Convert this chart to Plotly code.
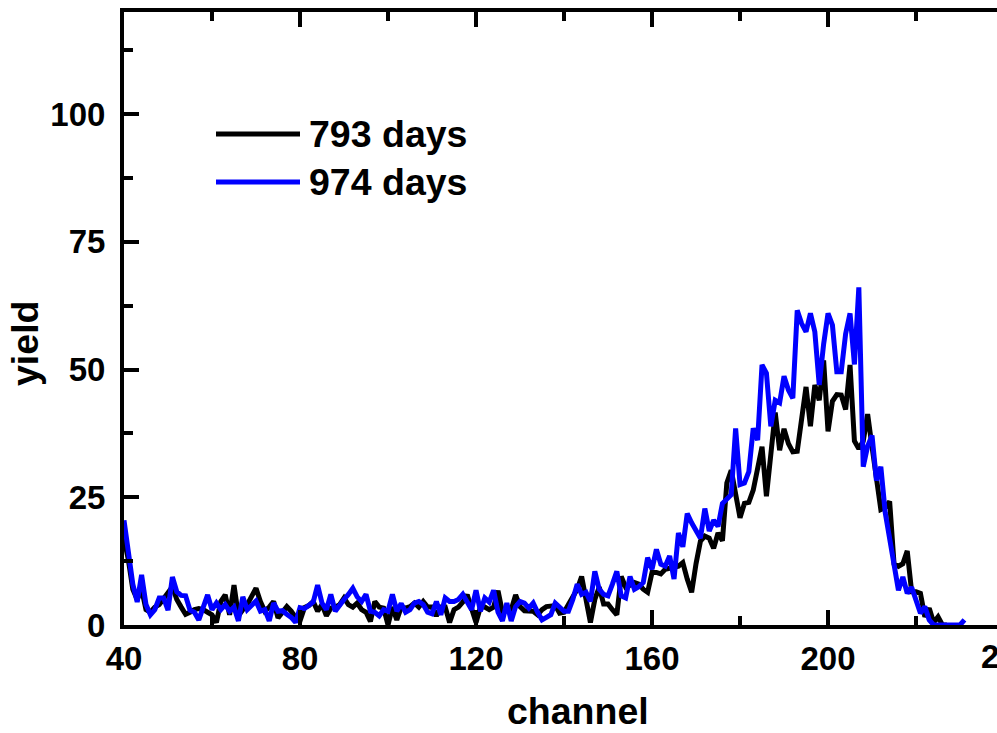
import plotly.graph_objects as go

# Spectrum yields per channel for the two measurement dates
yield_793 = [
    17.0, 12.7, 7.0, 5.0, 7.0, 3.0, 2.5, 3.5, 4.0, 5.0,          # 40-49
    6.3, 7.5, 5.0, 3.5, 2.1, 2.5, 3.0, 3.2, 3.0, 2.5,            # 50-59
    2.0, 0.5, 4.6, 5.9, 2.0, 7.8, 1.8, 3.0, 4.0, 5.6,            # 60-69
    7.2, 4.6, 2.7, 3.5, 4.6, 1.4, 2.5, 3.6, 2.7, 1.5,            # 70-79
    0.8, 3.4, 3.8, 4.6, 2.7, 4.0, 1.8, 3.3, 3.5, 4.0,            # 80-89
    5.3, 4.0, 3.5, 4.3, 3.0, 2.5, 0.7, 4.6, 3.5, 3.3,            # 90-99
    0.0, 3.5, 1.0, 3.5, 3.3, 3.6, 4.3, 3.5, 4.6, 3.5,            # 100-109
    3.5, 1.8, 3.5, 3.5, 0.5, 3.0, 3.5, 4.5, 5.9, 3.5,            # 110-119
    0.5, 3.5, 3.5, 3.0, 3.5, 6.7, 2.5, 3.0, 3.0, 5.9,            # 120-129
    3.6, 2.8, 2.7, 2.7, 2.0, 3.0, 3.6, 3.8, 3.8, 2.3,            # 130-139
    2.5, 4.0, 5.7, 7.0, 9.5, 5.0, 0.5, 5.0, 7.4, 4.1,            # 140-149
    4.1, 3.0, 2.0, 9.5, 7.4, 7.8, 8.3, 8.0, 7.0, 6.4,            # 150-159
    10.3, 10.3, 10.0, 10.9, 11.0, 11.3, 11.5, 12.2, 9.0, 6.4,    # 160-169
    12.0, 16.4, 17.4, 17.0, 15.0, 18.0, 16.5, 27.8, 30.3, 25.8,  # 170-179
    21.0, 23.8, 24.0, 26.4, 31.0, 34.9, 25.2, 33.0, 41.6, 34.2,  # 180-189
    38.4, 35.5, 33.9, 34.0, 40.0, 46.6, 38.9, 47.0, 44.0, 51.8,  # 190-199
    37.9, 43.8, 45.1, 45.0, 42.2, 50.9, 36.0, 34.5, 36.0, 41.3,  # 200-209
    34.9, 28.0, 22.6, 23.0, 24.2, 12.0, 11.5, 12.0, 14.5, 6.5,   # 210-219
    6.5, 6.2, 1.6, 3.3, 0.5, 1.6, 0.0, 0.0,                      # 220-227
]

yield_974 = [
    20.5, 14.0, 8.0, 4.5, 9.8, 4.0, 2.0, 3.0, 5.3, 5.3,          # 40-49
    2.9, 9.4, 6.5, 5.8, 5.7, 2.9, 2.5, 1.0, 3.5, 5.9,            # 50-59
    3.0, 4.3, 3.0, 4.0, 2.7, 3.5, 0.8, 5.5, 3.0, 3.8,            # 60-69
    4.7, 2.7, 3.0, 0.8, 4.3, 2.7, 2.8, 2.1, 1.5, 0.5,            # 70-79
    3.4, 3.2, 4.0, 4.5, 7.8, 4.3, 3.0, 6.0, 2.7, 4.0,            # 80-89
    5.0, 6.0, 7.2, 5.5, 4.6, 6.0, 2.7, 2.5, 1.8, 3.0,            # 90-99
    2.7, 6.0, 2.7, 4.2, 2.5, 3.0, 4.3, 4.6, 4.0, 2.5,            # 100-109
    2.2, 4.6, 2.0, 5.3, 4.6, 4.6, 5.0, 6.0, 4.5, 3.0,            # 110-119
    6.8, 2.7, 5.3, 4.5, 6.8, 2.5, 0.8, 4.3, 0.8, 3.6,            # 120-129
    4.6, 4.3, 3.3, 4.3, 2.5, 1.0, 1.5, 2.0, 4.3, 3.5,            # 130-139
    2.7, 2.7, 5.0, 8.0, 6.0, 6.4, 4.6, 10.5, 7.0, 6.0,           # 140-149
    5.7, 8.0, 10.5, 5.7, 5.3, 9.5, 7.0, 7.5, 8.3, 13.2,          # 150-159
    10.9, 14.8, 11.9, 11.5, 13.5, 9.0, 18.0, 15.3, 21.8, 20.0,   # 160-169
    18.5, 17.0, 22.8, 18.4, 20.5, 19.3, 23.8, 24.8, 25.5, 38.5,  # 170-179
    27.5, 27.8, 30.0, 38.5, 36.2, 50.9, 49.3, 38.9, 44.0, 43.5,  # 180-189
    48.7, 46.0, 44.4, 61.6, 59.0, 57.4, 61.0, 57.4, 47.0, 55.0,  # 190-199
    61.0, 58.7, 49.6, 49.6, 57.0, 61.0, 51.0, 66.1, 31.0, 35.0,  # 200-209
    37.1, 28.3, 31.0, 22.0, 16.6, 11.7, 6.8, 9.4, 6.2, 7.4,      # 210-219
    4.5, 2.3, 3.6, 1.0, 0.0, 0.0, 0.0, 0.0, 0.0, 0.0,            # 220-229
    0.0, 1.0,                                                    # 230-231
]

channels_793 = list(range(40, 40 + len(yield_793)))
channels_974 = list(range(40, 40 + len(yield_974)))

series_names = ["793 days", "974 days"]
series_colors = ["#000000", "#0000ff"]

x_ticks = [40, 80, 120, 160, 200, 240]
y_ticks = [0, 25, 50, 75, 100]

X_RANGE = [40, 238.4]
Y_RANGE = [0, 120]

FONT = "Liberation Sans, Arial, Helvetica, sans-serif"
TICK_SIZE = 33
TITLE_SIZE = 37.5

fig = go.Figure()
fig.add_trace(go.Scatter(x=channels_793, y=yield_793, mode="lines",
                         line=dict(color=series_colors[0], width=5),
                         name=series_names[0], showlegend=False))
# the later series sits on the top (matched) x axis so that axis is drawn
fig.add_trace(go.Scatter(x=channels_974, y=yield_974, mode="lines",
                         line=dict(color=series_colors[1], width=5),
                         name=series_names[1], showlegend=False,
                         xaxis="x2", yaxis="y"))

axis_common = dict(
    showline=True, linecolor="black", linewidth=4, mirror=False,
    ticks="inside", ticklen=15, tickwidth=3.5, tickcolor="black",
    showgrid=False, zeroline=False,
    tickfont=dict(family=FONT, size=TICK_SIZE, color="black", weight="bold"),
)
x_minor = dict(ticks="inside", ticklen=9, tickwidth=3.5,
               tickcolor="black", dtick=20, tick0=0)

fig.update_layout(
    xaxis=dict(range=X_RANGE, tickvals=x_ticks[:-1], minor=x_minor,
               ticklabelstandoff=1, **axis_common),
    # top frame edge with its own inward ticks
    xaxis2=dict(range=X_RANGE, tickvals=x_ticks[:-1], minor=x_minor,
                overlaying="x", side="top", anchor="y", matches="x",
                showticklabels=False, **axis_common),
    yaxis=dict(range=Y_RANGE, tickvals=y_ticks,
               minor=dict(ticks="inside", ticklen=9, tickwidth=3.5,
                          tickcolor="black", dtick=12.5, tick0=0),
               ticklabelstandoff=8, **axis_common),
)

L, T, B = 124, 12, 108
W, H = 997, 733
pw, ph = W - L, H - T - B


def px_x(p):
    return (p - L) / pw


def px_y(p):
    return (H - B - p) / ph


annotations = []
# last x tick label sits past the right edge of the page
annotations.append(dict(
    text="240", xref="paper", yref="paper",
    x=px_x(1008), y=px_y(656),
    xanchor="center", yanchor="middle", showarrow=False,
    font=dict(family=FONT, size=TICK_SIZE, color="black", weight="bold"),
))
annotations.append(dict(
    text="channel", xref="paper", yref="paper",
    x=px_x(578), y=px_y(711), xanchor="center", yanchor="middle",
    showarrow=False, font=dict(family=FONT, size=TITLE_SIZE, color="black", weight="bold"),
))
annotations.append(dict(
    text="yield", xref="paper", yref="paper", textangle=-90,
    x=px_x(25), y=px_y(344), xanchor="center", yanchor="middle",
    showarrow=False, font=dict(family=FONT, size=TITLE_SIZE, color="black", weight="bold"),
))

shapes = []
for i, (name, color) in enumerate(zip(series_names, series_colors)):
    ly = 134 + 48 * i
    shapes.append(dict(type="line", xref="paper", yref="paper",
                       x0=px_x(216), x1=px_x(300), y0=px_y(ly), y1=px_y(ly),
                       line=dict(color=color, width=5)))
    annotations.append(dict(
        text=name, xref="paper", yref="paper", x=px_x(307), y=px_y(ly),
        xanchor="left", yanchor="middle", showarrow=False,
        font=dict(family=FONT, size=TITLE_SIZE, color="black", weight="bold"),
    ))

fig.update_layout(
    width=W, height=H,
    margin=dict(l=L, r=0, t=T, b=B, pad=0),
    paper_bgcolor="white", plot_bgcolor="white",
    annotations=annotations, shapes=shapes,
    showlegend=False,
)

fig.write_html("out.html")
